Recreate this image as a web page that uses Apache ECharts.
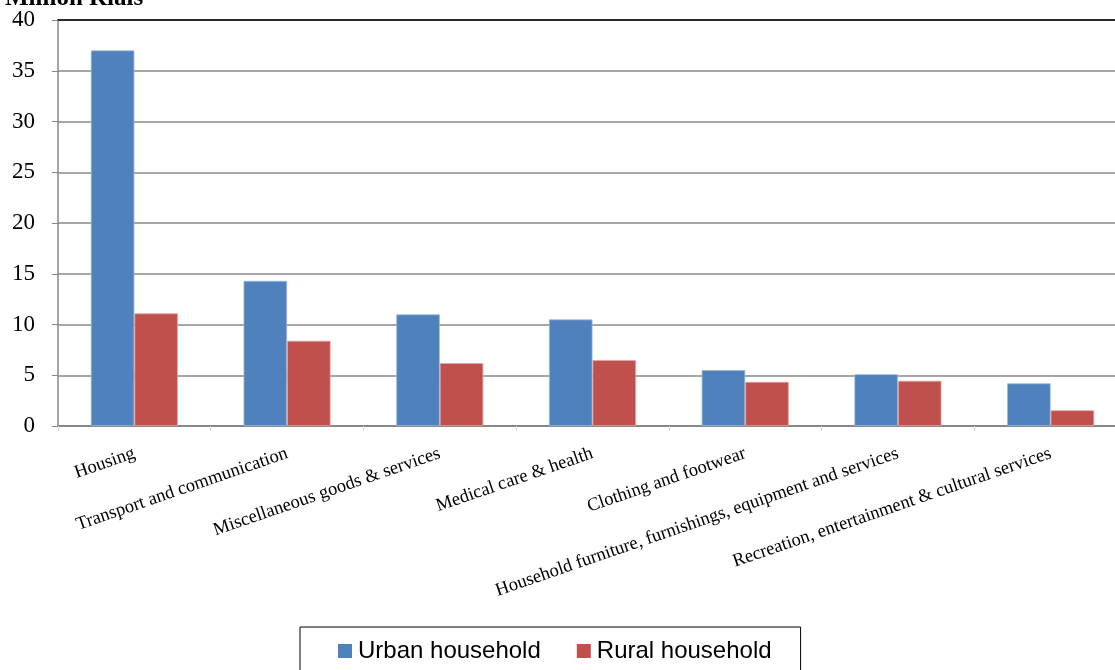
<!DOCTYPE html>
<html>
<head>
<meta charset="utf-8">
<script src="https://cdn.jsdelivr.net/npm/echarts@6/dist/echarts.min.js"></script>
<style>html,body{margin:0;padding:0;background:#fff;}#c{width:1115px;height:670px;}</style>
</head>
<body>
<div id="c"></div>
<script>
const categories = ["Housing","Transport and communication","Miscellaneous goods & services","Medical care & health","Clothing and footwear","Household furniture, furnishings, equipment and services","Recreation, entertainment & cultural services"];
const urban = [37.0, 14.3, 11.0, 10.5, 5.5, 5.1, 4.2];
const rural = [11.1, 8.4, 6.2, 6.5, 4.35, 4.45, 1.55];
const seriesNames = ["Urban household","Rural household"];
const yTitle = "Million Rials";

const chart = echarts.init(document.getElementById('c'));
chart.setOption({
  animation: false,
  title: {text: yTitle, left: 0, top: -19, textStyle: {fontFamily: 'Liberation Serif', fontWeight: 'bold', fontSize: 25, color: '#000'}},
  grid: {left: 58, width: 1069, top: 20, bottom: 244, containLabel: false, outerBoundsMode: 'none'},
  legend: {
    data: seriesNames, left: 300, top: 627, width: 500,
    padding: [12, 29, 30, 38], borderColor: '#000', borderWidth: 1,
    itemWidth: 14, itemHeight: 14, itemGap: 36,
    icon: 'rect',
    itemStyle: {borderWidth: 0},
    textStyle: {fontFamily: 'Liberation Sans', fontSize: 24, color: '#000', padding: [0,0,0,1]}
  },
  xAxis: [{
    type: 'category', data: categories,
    axisLine: {lineStyle: {color: '#888', width: 2}},
    axisTick: {show: true, length: 5, lineStyle: {color: '#d9d9d9'}},
    axisLabel: {interval: 0, rotate: 19, margin: 27, fontFamily: 'Liberation Serif', fontSize: 18.5, color: '#000'}
  },{
    type: 'category', data: categories, position: 'top',
    axisLine: {lineStyle: {color: '#000', width: 1.5}},
    axisTick: {show: false}, axisLabel: {show: false}
  }],
  yAxis: {
    type: 'value', min: 0, max: 40, interval: 5,
    axisLine: {show: true, lineStyle: {color: '#888', width: 1.5}},
    axisTick: {show: true, length: 6, lineStyle: {color: '#888'}},
    splitLine: {lineStyle: {color: '#888', width: 1.5}},
    axisLabel: {margin: 23, fontFamily: 'Liberation Serif', fontSize: 23, color: '#000'}
  },
  series: [
    {name: seriesNames[0], type: 'bar', data: urban, barGap: '0%', barCategoryGap: '43%',
     itemStyle: {color: '#4F81BD', borderColor: '#9cb8dc', borderWidth: 0.8}},
    {name: seriesNames[1], type: 'bar', data: rural, barGap: '0%', barCategoryGap: '43%',
     itemStyle: {color: '#C0504D', borderColor: '#e3a3a1', borderWidth: 0.8}}
  ]
});
</script>
</body>
</html>
